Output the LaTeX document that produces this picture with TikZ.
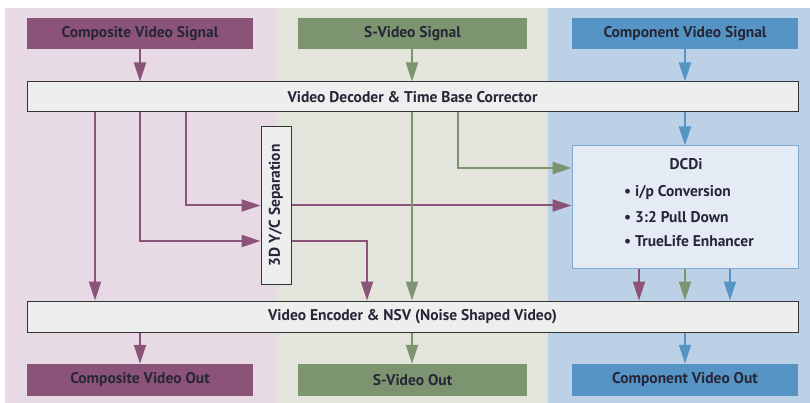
\documentclass[tikz,border=0pt]{standalone}
\usepackage{fontspec}
\setmainfont{PT Sans}
\usetikzlibrary{math,arrows.meta}
\definecolor{plum}{HTML}{8C5379}
\definecolor{sage}{HTML}{7C9470}
\definecolor{steel}{HTML}{5594C4}
\definecolor{plumbg}{HTML}{E7DAE5}
\definecolor{sagebg}{HTML}{E3E5DC}
\definecolor{steelbg}{HTML}{BCD1E6}
\definecolor{ink}{HTML}{262636}
\definecolor{panel}{HTML}{EDEEEE}
\definecolor{dcdifill}{HTML}{E4EBF4}
\definecolor{dcdiline}{HTML}{7FA9D2}

\begin{document}
\begin{tikzpicture}[x=1pt,y=-1pt,
  txt/.style={text=ink,font=\fontsize{15.5}{17}\selectfont\bfseries,inner sep=0},
  sigbox/.style={txt,minimum width=226,minimum height=31},
  bar/.style={txt,draw=black!80,line width=1,fill=panel,minimum width=771,minimum height=30},
  wire/.style={line width=2,-{Triangle[length=19,width=12]}}]

\tikzmath{
\bgtop = 8;
\bgwidth = 810;
\bgheight = 403;
}

% background columns
\fill[white] (0,0) rectangle (\bgwidth,\bgheight);
\fill[plumbg] (5,\bgtop) rectangle (276,\bgheight);
\fill[sagebg] (276,\bgtop) rectangle (548,\bgheight);
\fill[steelbg] (548,\bgtop) rectangle (\bgwidth,\bgheight);

% inputs
\node[sigbox,fill=plum] (cin) at (140,33.5) {Composite Video Signal};
\node[sigbox,fill=sage,minimum width=229] (sin) at (412.5,33.5) {S-Video Signal};
\node[sigbox,fill=steel] (pin) at (685,33.5) {Component Video Signal};

% processing
\node[bar] (dec) at (412.5,97) {Video Decoder \& Time Base Corrector};
\node[draw=black!80,line width=1,fill=panel,minimum width=30,minimum height=157] (yc) at (276,205.5) {};
\node[txt,rotate=90] (yclabel) at (yc) {3D Y/C Separation};
\node[draw=dcdiline,line width=1,fill=dcdifill,minimum width=226,minimum height=122] (dcdi) at (685,207) {};
\node[txt] (dcdititle) at (686,164) {DCDi};
\node[txt,anchor=west] (item1) at (624,192.5) {\textbullet\ i/p Conversion};
\node[txt,anchor=west] (item2) at (624,217.5) {\textbullet\ 3:2 Pull Down};
\node[txt,anchor=west] (item3) at (624,241.5) {\textbullet\ TrueLife Enhancer};
\node[bar,minimum height=31] (enc) at (412.5,316.5) {Video Encoder \& NSV (Noise Shaped Video)};

% outputs
\node[sigbox,fill=plum,minimum height=32] (cout) at (140,380) {Composite Video Out};
\node[sigbox,fill=sage,minimum width=229,minimum height=32] (sout) at (412.5,380) {S-Video Out};
\node[sigbox,fill=steel,minimum height=32] (pout) at (685,380) {Component Video Out};

% tap points
\coordinate (ta) at (95,0);
\coordinate (tb) at (140,0);
\coordinate (tc) at (186,0);
\coordinate (td) at (367,0);
\coordinate (sa) at (412,0);
\coordinate (sb) at (458,0);
\coordinate (ylo) at (0,241);
\coordinate (ygr) at (0,168);

% composite paths
\draw[wire,plum] (cin) -- (cin.south |- dec.north);
\draw[wire,plum] (dec.south -| ta) -- (ta |- enc.north);
\draw[wire,plum] (dec.south -| tb) |- (yc.west |- ylo);
\draw[wire,plum] (dec.south -| tc) |- (yc.west);
\draw[wire,plum] (yc.east) -- (yc.east -| dcdi.west);
\draw[wire,plum] (yc.east |- ylo) -| (td |- enc.north);

% s-video paths
\draw[wire,sage] (sin.south -| sa) -- (sa |- dec.north);
\draw[wire,sage] (dec.south -| sa) -- (sa |- enc.north);
\draw[wire,sage] (dec.south -| sb) |- (dcdi.west |- ygr);

% component paths
\draw[wire,steel] (pin) -- (pin.south |- dec.north);
\draw[wire,steel] (dec.south -| dcdi.north) -- (dcdi.north);

\foreach \x/\c in {639/plum,685/sage,730/steel}
{
   \coordinate (k) at (\x,0);
   \draw[wire,\c] (dcdi.south -| k) -- (k |- enc.north);
}

% outputs
\draw[wire,plum] (enc.south -| cout.north) -- (cout.north);
\draw[wire,sage] (enc.south -| sa) -- (sa |- sout.north);
\draw[wire,steel] (enc.south -| pout.north) -- (pout.north);

\end{tikzpicture}
\end{document}
